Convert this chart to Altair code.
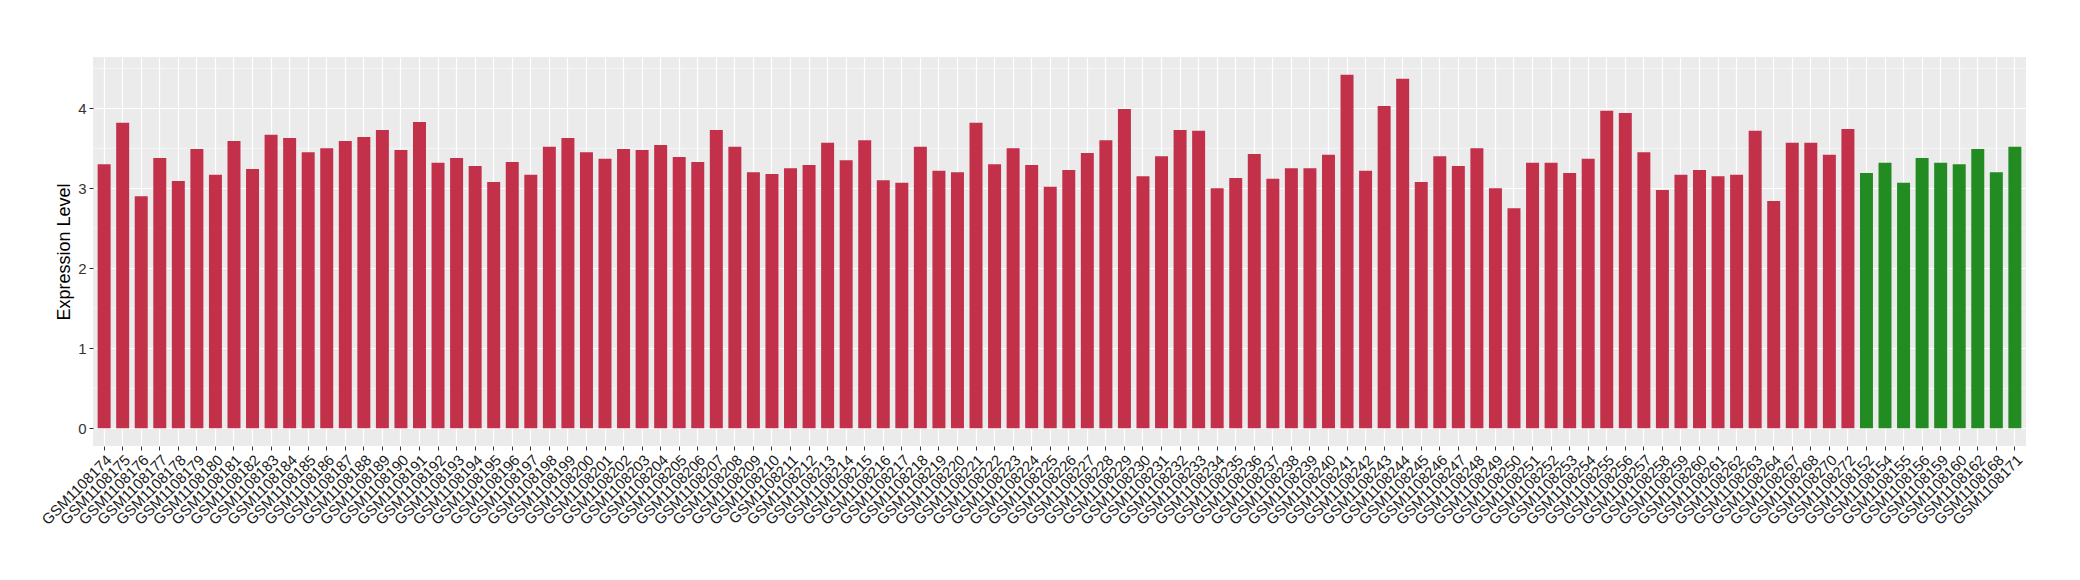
import altair as alt
import pandas as pd

red_ids = [f"GSM1108{n}" for n in range(174, 265)] + ["GSM1108267", "GSM1108268", "GSM1108270", "GSM1108272"]
green_ids = ["GSM1108152", "GSM1108154", "GSM1108155", "GSM1108156", "GSM1108159",
             "GSM1108160", "GSM1108162", "GSM1108168", "GSM1108171"]

red_values = [
    3.30, 3.82, 2.90, 3.38, 3.09, 3.49, 3.17, 3.59, 3.24, 3.67,
    3.63, 3.45, 3.50, 3.59, 3.64, 3.73, 3.48, 3.83, 3.32, 3.38,
    3.28, 3.08, 3.33, 3.17, 3.52, 3.63, 3.45, 3.37, 3.49, 3.48,
    3.54, 3.39, 3.33, 3.73, 3.52, 3.20, 3.18, 3.25, 3.29, 3.57,
    3.35, 3.60, 3.10, 3.07, 3.52, 3.22, 3.20, 3.82, 3.30, 3.50,
    3.29, 3.02, 3.23, 3.44, 3.60, 3.99, 3.15, 3.40, 3.73, 3.72,
    3.00, 3.13, 3.43, 3.12, 3.25, 3.25, 3.42, 4.42, 3.22, 4.03,
    4.37, 3.08, 3.40, 3.28, 3.50, 3.00, 2.75, 3.32, 3.32, 3.19,
    3.37, 3.97, 3.94, 3.45, 2.98, 3.17, 3.23, 3.15, 3.17, 3.72,
    2.84, 3.57, 3.57, 3.42, 3.74,
]
green_values = [3.19, 3.32, 3.07, 3.38, 3.32, 3.30, 3.49, 3.20, 3.52]

y_ticks = [0, 1, 2, 3, 4]
y_minor = [0.5, 1.5, 2.5, 3.5, 4.5]

RED = "#C3304A"
GREEN = "#228B22"

samples = red_ids + green_ids
df = pd.DataFrame({
    "sample": samples,
    "value": red_values + green_values,
    "group": ["a"] * len(red_ids) + ["b"] * len(green_ids),
    "base": [0.0] * len(samples),
})
minor_df = pd.DataFrame({"v": y_minor})

FONT = "Liberation Sans"

y_scale = alt.Scale(domain=[-0.221, 4.641], nice=False, zero=False)

x_enc = alt.X(
    "sample:N",
    sort=samples,
    scale=alt.Scale(paddingInner=0.3, paddingOuter=0.25),
    axis=alt.Axis(
        title=None,
        labelAngle=315,
        labelAlign="right",
        labelBaseline="top",
        labelFontSize=15,
        labelColor="#1A1A1A",
        labelFont=FONT,
        labelPadding=2,
        labelOverlap=False,
        tickSize=4,
        tickColor="#333333",
        tickWidth=1,
        domain=False,
        grid=True,
        gridColor="white",
        gridWidth=1.2,
        bandPosition=0.5,
    ),
)

minor = alt.Chart(minor_df).mark_rule(color="white", strokeWidth=0.6).encode(
    y=alt.Y("v:Q", scale=y_scale)
)

bars = alt.Chart(df).mark_bar().encode(
    x=x_enc,
    y=alt.Y(
        "value:Q",
        scale=y_scale,
        axis=alt.Axis(
            values=y_ticks,
            format="d",
            title="Expression Level",
            titleFontSize=18,
            titleFontWeight="normal",
            titleFont=FONT,
            titleColor="black",
            titleAngle=270,
            titleX=-29,
            titleY=194.5,
            titleAlign="center",
            titleBaseline="middle",
            labelFontSize=15,
            labelFont=FONT,
            labelColor="#333333",
            labelPadding=3,
            tickSize=4,
            tickColor="#333333",
            domain=False,
            grid=True,
            gridColor="white",
            gridWidth=1.2,
        ),
    ),
    y2="base:Q",
    color=alt.Color("group:N", scale=alt.Scale(domain=["a", "b"], range=[RED, GREEN]), legend=None),
)

chart = alt.layer(minor, bars).properties(
    width=1933,
    height=389,
    padding={"left": 85, "top": 49, "right": 46, "bottom": 120},
    autosize=alt.AutoSizeParams(type="none"),
    background="white",
).configure_view(fill="#EBEBEB", strokeWidth=0)

chart.save("out.html", embed_options={"renderer": "svg", "actions": False})
